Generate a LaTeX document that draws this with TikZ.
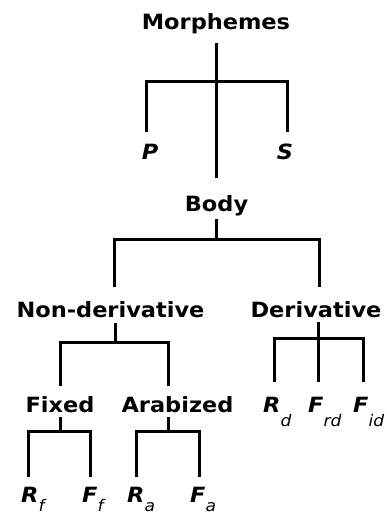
\documentclass[tikz,border=0pt]{standalone}
\usepackage{fontspec}
\setmainfont{DejaVu Sans}[FakeStretch=1.07]
\newcommand\subx[2][-14pt]{\raisebox{#1}{\fontsize{16}{16}\selectfont\mdseries\itshape #2}}
\begin{document}
\begin{tikzpicture}[x=1pt,y=-1pt,
  lbl/.style={font=\fontsize{21}{21}\selectfont\bfseries, inner sep=0pt, anchor=base},
  sym/.style={font=\fontsize{21}{21}\selectfont\bfseries\itshape, inner sep=0pt, anchor=base west},
  branch/.style={line width=3pt, line cap=butt, line join=miter}]
\useasboundingbox (0,0) rectangle (386,514);
% labels
\node[lbl] (morph) at (216,29) {Morphemes};
\node[sym,anchor=base] (P) at (150,159) {P};
\node[sym,anchor=base] (S) at (285,159) {S};
\node[lbl] (body) at (216.5,211) {Body};
\node[lbl] (nonder) at (110.5,317) {Non-derivative};
\node[lbl] (der) at (316,317) {Derivative};
\node[lbl] (fixed) at (60,412) {Fixed};
\node[lbl] (arab) at (177.5,412) {Arabized};
\node[sym] (Rd) at (263,412) {R\subx{d}};
\node[sym] (Frd) at (308,412) {F\subx{rd}};
\node[sym] (Fid) at (353,412) {F\subx{id}};
\node[sym] (Rf) at (21,502) {R\subx[-9pt]{f}};
\node[sym] (Ff) at (82,502) {F\subx[-9pt]{f}};
\node[sym] (Ra) at (127,502) {R\subx[-9pt]{a}};
\node[sym] (Fa) at (190,502) {F\subx[-9pt]{a}};
% Morphemes
\coordinate (mTop) at (216,43);
\coordinate (mBot) at (216,178);
\coordinate (mJ) at (216,81);
\coordinate (pEnd) at (146,132);
\coordinate (sEnd) at (287,132);
\draw[branch] (mTop) -- (mBot);
\draw[branch] (pEnd) |- (mJ) -| (sEnd);
% Body
\coordinate (bTop) at (216,219);
\coordinate (bJ) at (216,239);
\coordinate (ndEnd) at (114,287);
\coordinate (dEnd) at (319,287);
\draw[branch] (bTop) -- (bJ);
\draw[branch] (ndEnd) |- (bJ) -| (dEnd);
% Non-derivative
\coordinate (ndTop) at (115,323);
\coordinate (ndJ) at (115,342);
\coordinate (fxEnd) at (60,386);
\coordinate (arEnd) at (168,386);
\draw[branch] (ndTop) -- (ndJ);
\draw[branch] (fxEnd) |- (ndJ) -| (arEnd);
% Derivative
\coordinate (dTop) at (318,322);
\coordinate (dJ) at (318,338);
\coordinate (rdEnd) at (274,382);
\coordinate (frdEnd) at (318,382);
\coordinate (fidEnd) at (363,382);
\draw[branch] (dTop) -- (frdEnd);
\draw[branch] (rdEnd) |- (dJ) -| (fidEnd);
% Fixed
\coordinate (fxTop) at (60,417);
\coordinate (fxJ) at (60,431);
\coordinate (rfEnd) at (28,477);
\coordinate (ffEnd) at (90,477);
\draw[branch] (fxTop) -- (fxJ);
\draw[branch] (rfEnd) |- (fxJ) -| (ffEnd);
% Arabized
\coordinate (arTop) at (168,417);
\coordinate (arJ) at (168,431);
\coordinate (raEnd) at (136,477);
\coordinate (faEnd) at (199,477);
\draw[branch] (arTop) -- (arJ);
\draw[branch] (raEnd) |- (arJ) -| (faEnd);
\end{tikzpicture}
\end{document}
